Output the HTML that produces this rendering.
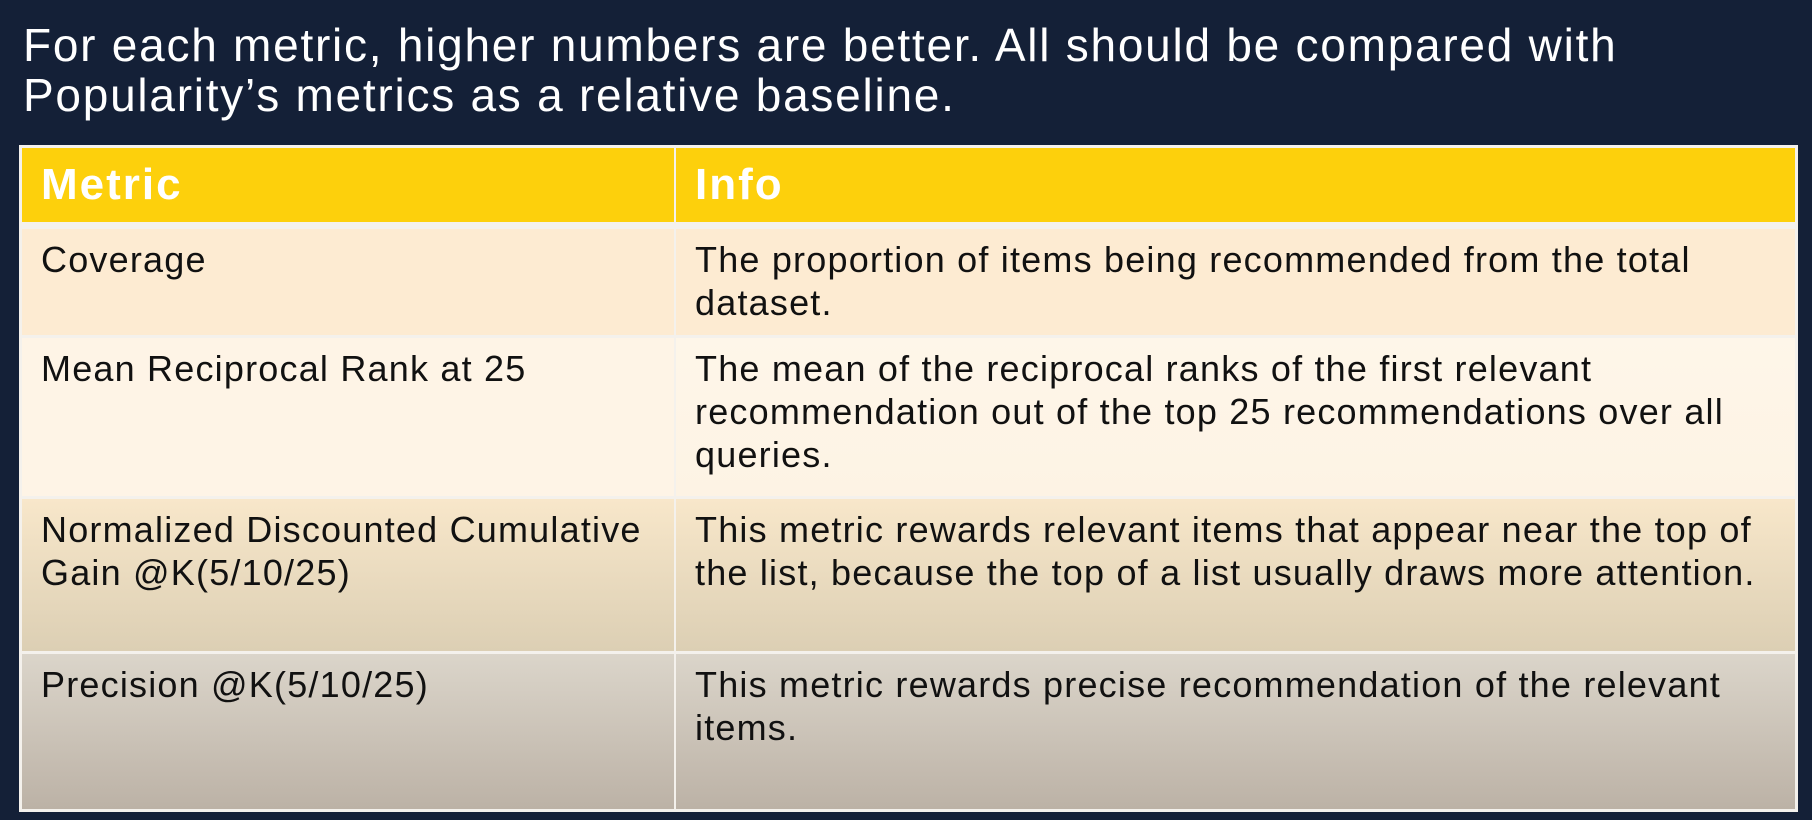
<!DOCTYPE html>
<html><head><meta charset="utf-8"><style>
*{margin:0;padding:0;box-sizing:border-box}
body{width:1812px;height:820px;background:#142037;font-family:"Liberation Sans",sans-serif;position:relative;overflow:hidden}
.title{position:absolute;left:23px;top:20px;color:#fff;font-size:46px;letter-spacing:1.75px;line-height:50px;width:1700px}
.tbl{position:absolute;left:19px;top:145px;width:1779px;height:667px;background:#f4f1ec;}
.row{position:absolute;left:3px;width:1773px}
.cell{position:absolute;top:0;bottom:0;color:#111;font-size:36px;letter-spacing:1.2px;line-height:43px;padding-top:9px}
.c1{left:0;width:652px;padding-left:19px;padding-right:8px}
.c2{left:654px;right:0;padding-left:19px;padding-right:20px}
.hdr .cell{color:#fff;font-weight:bold;font-size:44px;letter-spacing:2px;line-height:74px;padding-top:0}
</style></head><body>
<div class="title">For each metric, higher numbers are better. All should be compared with Popularity’s metrics as a relative baseline.</div>
<div class="tbl">
 <div class="row hdr" style="top:3px;height:74px">
  <div class="cell c1" style="background:#fdd00c">Metric</div>
  <div class="cell c2" style="background:#fdd00c">Info</div>
 </div>
 <div class="row" style="top:84px;height:106px">
  <div class="cell c1" style="background:#fdebd2">Coverage</div>
  <div class="cell c2" style="background:#fdebd2">The proportion of items being recommended from the total<br>dataset.</div>
 </div>
 <div class="row" style="top:193px;height:158px">
  <div class="cell c1" style="background:#fef4e6">Mean Reciprocal Rank at 25</div>
  <div class="cell c2" style="background:linear-gradient(#fef6e9,#fdf3e4)">The mean of the reciprocal ranks of the first relevant<br>recommendation out of the top 25 recommendations over all<br>queries.</div>
 </div>
 <div class="row" style="top:354px;height:152px">
  <div class="cell c1" style="background:linear-gradient(#f8e7ca,#dccfb4)">Normalized Discounted Cumulative<br>Gain @K(5/10/25)</div>
  <div class="cell c2" style="background:linear-gradient(#f8e7ca,#dccfb4)">This metric rewards relevant items that appear near the top of<br>the list, because the top of a list usually draws more attention.</div>
 </div>
 <div class="row" style="top:509px;height:155px">
  <div class="cell c1" style="background:linear-gradient(#dbd5ca,#bcb2a6)">Precision @K(5/10/25)</div>
  <div class="cell c2" style="background:linear-gradient(#dbd5ca,#bcb2a6)">This metric rewards precise recommendation of the relevant<br>items.</div>
 </div>
</div>
</body></html>
